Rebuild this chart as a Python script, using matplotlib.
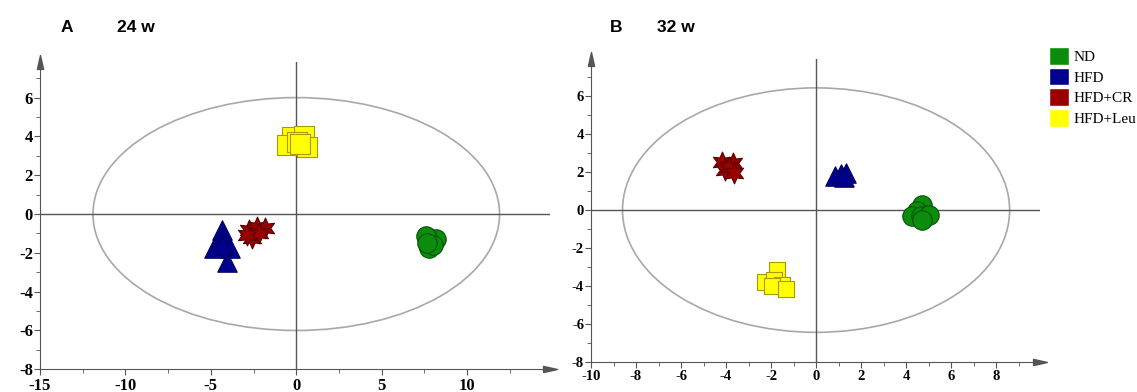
import matplotlib
matplotlib.use("Agg")
import matplotlib.pyplot as plt
from matplotlib.patches import Ellipse, Patch
from matplotlib.ticker import MultipleLocator

plt.rcParams['font.family'] = ['Liberation Serif', 'DejaVu Serif']
plt.rcParams['font.weight'] = 'bold'
plt.rcParams['axes.unicode_minus'] = False

groups = ['ND', 'HFD', 'HFD+CR', 'HFD+Leu']
fills = ['#0b8c0b', '#00008f', '#990000', '#ffff00']
edges = ['#055205', '#00005a', '#5a0000', '#a89a00']
markers = ['o', '^', (6, 1, 0), 's']

# panel A, 24 w  (t[1], t[2] scores per group)
a_nd_x = [7.89, 7.78, 8.2, 7.57, 8.0, 7.68]
a_nd_y = [-1.32, -1.75, -1.29, -1.15, -1.58, -1.49]
a_hfd_x = [-4.35, -4.35, -4.84, -3.86, -4.35, -4.05]
a_hfd_y = [-0.82, -1.25, -1.77, -1.77, -1.6, -2.46]
a_cr_x = [-2.79, -2.3, -1.81, -2.59, -2.2, -2.88]
a_cr_y = [-0.82, -0.65, -0.74, -1.25, -0.99, -1.08]
a_leu_x = [-0.25, 0.43, -0.54, 0.62, 0.04, 0.23]
a_leu_y = [3.98, 4.02, 3.56, 3.47, 3.73, 3.61]

# panel B, 32 w
b_nd_x = [4.72, 4.49, 4.27, 4.64, 5.01, 4.72]
b_nd_y = [0.29, -0.06, -0.33, -0.33, -0.24, -0.5]
b_hfd_x = [1.1, 1.34, 0.85, 1.22]
b_hfd_y = [1.93, 1.97, 1.79, 1.76]
b_cr_x = [-4.19, -3.71, -4.03, -3.87, -3.63]
b_cr_y = [2.56, 2.47, 2.12, 2.3, 1.94]
b_leu_x = [-1.73, -2.26, -1.85, -1.53, -1.98, -1.34]
b_leu_y = [-3.18, -3.81, -3.67, -3.93, -4.02, -4.16]

a_ellipse = (11.9, 6.0)
b_ellipse = (8.6, 6.45)

arrow_right = [(-1, -0.45), (1, 0), (-1, 0.45), (-1, -0.45)]
arrow_up = [(-0.45, -1), (0, 1), (0.45, -1), (-0.45, -1)]
axis_col = '#555555'


def draw_panel(ax, pts, ell, xlim, ylim, xmaj, xmin, sizes, label_size):
  ax.set_xlim(*xlim)
  ax.set_ylim(*ylim)
  ax.add_patch(Ellipse((0, 0), 2 * ell[0], 2 * ell[1], fill=False,
                       edgecolor='#a8a8a8', lw=1.2, zorder=1))
  ax.axhline(0, color=axis_col, lw=1, zorder=1)
  ax.axvline(0, color=axis_col, lw=1, zorder=1)
  for i, (xs, ys) in enumerate(pts):
    ax.scatter(xs, ys, s=sizes[i] ** 2, marker=markers[i], facecolor=fills[i],
               edgecolor=edges[i], linewidths=0.8, zorder=3)
  for side in ['top', 'right']:
    ax.spines[side].set_visible(False)
  for side in ['left', 'bottom']:
    ax.spines[side].set_color(axis_col)
  ax.xaxis.set_major_locator(MultipleLocator(xmaj))
  ax.xaxis.set_minor_locator(MultipleLocator(xmin))
  ax.yaxis.set_major_locator(MultipleLocator(2))
  ax.yaxis.set_minor_locator(MultipleLocator(1))
  ax.tick_params(which='both', direction='out', color=axis_col)
  ax.tick_params(which='major', length=4, pad=1, labelsize=label_size)
  ax.tick_params(which='minor', length=3)
  ax.tick_params(axis='x', which='major', pad=2)
  ax.plot(1, 0, marker=arrow_right, ms=10, color=axis_col, transform=ax.transAxes, clip_on=False)
  ax.plot(0, 1, marker=arrow_up, ms=10, color=axis_col, transform=ax.transAxes, clip_on=False)


fig = plt.figure(figsize=(11.37, 3.92), dpi=100)
ax_a = fig.add_axes([0.0352, 0.0579, 0.4485, 0.7847])
ax_b = fig.add_axes([0.5198, 0.0773, 0.3949, 0.771])

draw_panel(ax_a, [(a_nd_x, a_nd_y), (a_hfd_x, a_hfd_y), (a_cr_x, a_cr_y), (a_leu_x, a_leu_y)],
           a_ellipse, (-15, 14.85), (-8, 7.85), 5, 2.5, [14, 14, 15, 15], 12)
draw_panel(ax_b, [(b_nd_x, b_nd_y), (b_hfd_x, b_hfd_y), (b_cr_x, b_cr_y), (b_leu_x, b_leu_y)],
           b_ellipse, (-10, 9.95), (-8, 7.95), 2, 1, [14, 14, 15, 12], 10.5)

title_kw = dict(family='Liberation Sans', fontweight='bold', fontsize=12.5, va='center')
fig.text(61 / 1137, 1 - 27 / 392, 'A', **title_kw)
fig.text(117 / 1137, 1 - 27 / 392, '24 w', **title_kw)
fig.text(610 / 1137, 1 - 27 / 392, 'B', **title_kw)
fig.text(657 / 1137, 1 - 27 / 392, '32 w', **title_kw)

handles = [Patch(facecolor=fills[i], edgecolor='white', label=groups[i]) for i in range(4)]
fig.legend(handles=handles, loc='upper left', bbox_to_anchor=(1049 / 1137, 1 - 47 / 392),
           frameon=False, prop={'size': 11, 'weight': 'normal'}, handlelength=1.3,
           handleheight=1.4, handletextpad=0.3, labelspacing=0.2, borderpad=0,
           borderaxespad=0)

fig.savefig('out.png', dpi=100)
